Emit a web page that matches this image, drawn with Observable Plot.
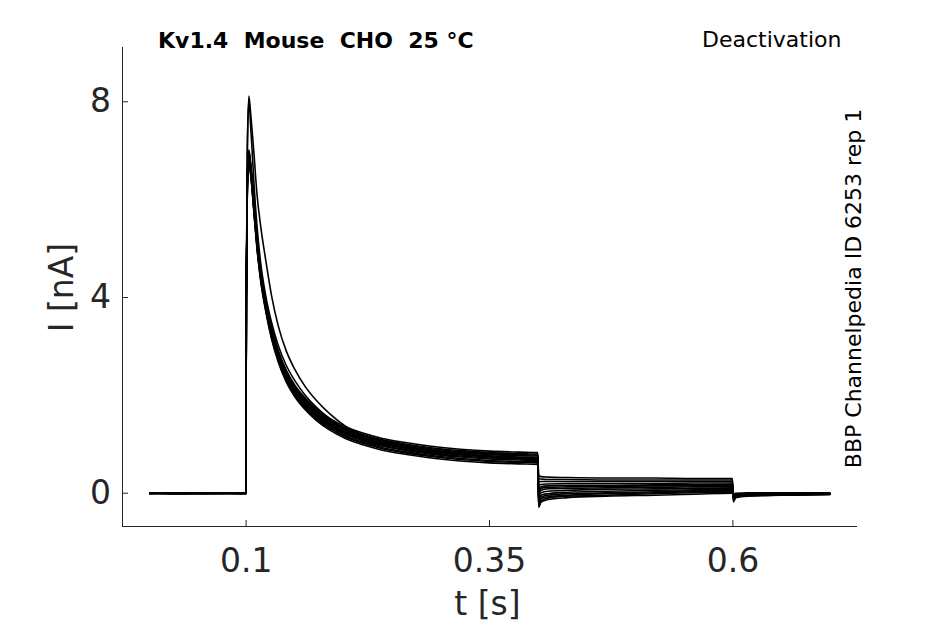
<!DOCTYPE html>
<html>
<head>
<meta charset="utf-8">
<script src="https://cdn.jsdelivr.net/npm/d3@7"></script>
<script src="https://cdn.jsdelivr.net/npm/@observablehq/plot@0.6"></script>
<style>
html,body{margin:0;padding:0;background:#fff;}
#chart{width:945px;height:624px;}
</style>
</head>
<body>
<div id="chart"></div>
<script>
// time samples (s), shared by every sweep
const time = [0.001, 0.03, 0.06, 0.0998,
  0.1002, 0.1012, 0.1028, 0.1045, 0.106, 0.108, 0.111, 0.115, 0.120, 0.126, 0.133, 0.141, 0.150, 0.160,
  0.172, 0.186, 0.202, 0.220, 0.240, 0.265, 0.290, 0.320, 0.350, 0.380, 0.3995,
  0.4005, 0.403, 0.41, 0.43, 0.47, 0.52, 0.56, 0.5995,
  0.6005, 0.603, 0.615, 0.65, 0.6995];

// current (nA) of each sweep at those times
const sweep01 = [0.00, 0.01, -0.01, 0.00,
  4.20, 7.00, 8.12, 7.80, 7.45, 6.95, 6.15, 5.45, 4.78, 4.05, 3.42, 2.92, 2.53, 2.20, 1.90, 1.62, 1.37, 1.19, 1.05, 0.95, 0.87, 0.81, 0.76, 0.73, 0.72,
  0.01, 0.06, 0.09, 0.10, 0.11, 0.12, 0.13, 0.14,
  -0.07, -0.04, -0.03, -0.02, -0.01];
const sweep13 = [0.01, 0.00, 0.00, -0.01,
  4.15, 6.95, 8.05, 7.55, 7.05, 6.35, 5.50, 4.70, 4.05, 3.50, 3.02, 2.62, 2.30, 2.02, 1.76, 1.52, 1.30, 1.14, 1.02, 0.93, 0.86, 0.80, 0.75, 0.72, 0.71,
  0.05, 0.10, 0.12, 0.13, 0.14, 0.15, 0.15, 0.16,
  -0.08, -0.05, -0.03, -0.02, -0.01];
const sweep02 = [0.01, -0.01, 0.00, 0.01,
  4.12, 6.42, 7.02, 6.77, 6.47, 5.97, 5.27, 4.57, 3.97, 3.40, 2.92, 2.52, 2.21, 1.96, 1.73, 1.53, 1.36, 1.23, 1.12, 1.03, 0.96, 0.90, 0.86, 0.84, 0.83,
  0.36, 0.34, 0.33, 0.32, 0.31, 0.31, 0.30, 0.30,
  -0.18, -0.09, -0.06, -0.04, -0.03];
const sweep03 = [-0.01, 0.00, 0.01, 0.00,
  4.09, 6.39, 6.99, 6.74, 6.44, 5.94, 5.24, 4.54, 3.94, 3.37, 2.89, 2.49, 2.18, 1.93, 1.70, 1.50, 1.33, 1.20, 1.09, 1.00, 0.93, 0.87, 0.83, 0.81, 0.80,
  0.30, 0.29, 0.28, 0.28, 0.27, 0.27, 0.27, 0.27,
  -0.15, -0.08, -0.05, -0.04, -0.02];
const sweep04 = [0.00, -0.01, 0.00, -0.01,
  4.07, 6.37, 6.97, 6.72, 6.42, 5.92, 5.22, 4.52, 3.92, 3.35, 2.87, 2.47, 2.16, 1.91, 1.68, 1.48, 1.31, 1.18, 1.07, 0.98, 0.91, 0.85, 0.81, 0.79, 0.78,
  0.23, 0.24, 0.24, 0.24, 0.24, 0.24, 0.24, 0.24,
  -0.13, -0.07, -0.05, -0.03, -0.02];
const sweep05 = [0.01, 0.00, -0.01, 0.00,
  4.05, 6.35, 6.95, 6.70, 6.40, 5.90, 5.20, 4.50, 3.90, 3.33, 2.85, 2.45, 2.14, 1.89, 1.66, 1.46, 1.29, 1.16, 1.05, 0.96, 0.89, 0.83, 0.79, 0.77, 0.76,
  0.17, 0.18, 0.19, 0.20, 0.20, 0.20, 0.21, 0.21,
  -0.11, -0.06, -0.04, -0.03, -0.02];
const sweep06 = [0.00, 0.01, 0.00, 0.01,
  4.02, 6.32, 6.92, 6.67, 6.37, 5.87, 5.17, 4.47, 3.87, 3.30, 2.82, 2.42, 2.11, 1.86, 1.63, 1.43, 1.26, 1.13, 1.02, 0.93, 0.86, 0.80, 0.76, 0.74, 0.73,
  0.10, 0.13, 0.15, 0.16, 0.16, 0.17, 0.17, 0.18,
  -0.09, -0.05, -0.04, -0.03, -0.01];
const sweep07 = [-0.01, 0.00, 0.00, 0.00,
  4.00, 6.30, 6.90, 6.65, 6.35, 5.85, 5.15, 4.45, 3.85, 3.28, 2.80, 2.40, 2.09, 1.84, 1.61, 1.41, 1.24, 1.11, 1.00, 0.91, 0.84, 0.78, 0.74, 0.72, 0.71,
  -0.05, 0.01, 0.04, 0.06, 0.08, 0.09, 0.10, 0.11,
  -0.06, -0.04, -0.03, -0.02, -0.01];
const sweep08 = [0.00, 0.00, 0.01, -0.01,
  3.98, 6.28, 6.88, 6.63, 6.33, 5.83, 5.13, 4.43, 3.83, 3.26, 2.78, 2.38, 2.07, 1.82, 1.59, 1.39, 1.22, 1.09, 0.98, 0.89, 0.82, 0.76, 0.72, 0.70, 0.69,
  -0.12, -0.04, -0.01, 0.02, 0.04, 0.06, 0.07, 0.08,
  -0.05, -0.03, -0.02, -0.02, 0.00];
const sweep09 = [0.01, -0.01, 0.00, 0.00,
  3.96, 6.26, 6.86, 6.61, 6.31, 5.81, 5.11, 4.41, 3.81, 3.24, 2.76, 2.36, 2.05, 1.80, 1.57, 1.37, 1.20, 1.07, 0.96, 0.87, 0.80, 0.74, 0.70, 0.68, 0.67,
  -0.16, -0.08, -0.04, -0.01, 0.01, 0.03, 0.05, 0.06,
  -0.04, -0.03, -0.02, -0.01, 0.00];
const sweep10 = [0.00, 0.00, -0.01, 0.01,
  3.93, 6.23, 6.83, 6.58, 6.28, 5.78, 5.08, 4.38, 3.78, 3.21, 2.73, 2.33, 2.02, 1.77, 1.54, 1.34, 1.17, 1.04, 0.93, 0.84, 0.77, 0.71, 0.67, 0.65, 0.64,
  -0.20, -0.11, -0.07, -0.04, -0.01, 0.01, 0.03, 0.04,
  -0.03, -0.02, -0.01, -0.01, 0.00];
const sweep11 = [-0.01, 0.01, 0.00, 0.00,
  3.91, 6.21, 6.81, 6.56, 6.26, 5.76, 5.06, 4.36, 3.76, 3.19, 2.71, 2.31, 2.00, 1.75, 1.52, 1.32, 1.15, 1.02, 0.91, 0.82, 0.75, 0.69, 0.65, 0.63, 0.62,
  -0.25, -0.15, -0.10, -0.06, -0.04, -0.01, 0.01, 0.02,
  -0.02, -0.01, -0.01, 0.00, 0.01];
const sweep12 = [0.00, -0.01, 0.01, 0.00,
  3.88, 6.18, 6.78, 6.53, 6.23, 5.73, 5.03, 4.33, 3.73, 3.16, 2.68, 2.28, 1.97, 1.72, 1.49, 1.29, 1.12, 0.99, 0.88, 0.79, 0.72, 0.66, 0.62, 0.60, 0.59,
  -0.29, -0.18, -0.13, -0.09, -0.06, -0.04, -0.02, 0.00,
  -0.01, 0.00, 0.01, 0.01, 0.01];

const sweeps = [sweep01, sweep13, sweep02, sweep03, sweep04, sweep05, sweep06,
                sweep07, sweep08, sweep09, sweep10, sweep11, sweep12];

const xTicks = [0.1, 0.35, 0.6];
const yTicks = [0, 4, 8];
const xDomain = [-0.027, 0.728];
const yDomain = [-0.68, 9.11];

const titleText = "Kv1.4\u00a0 Mouse\u00a0 CHO\u00a0 25 °C";
const protocolText = "Deactivation";
const sourceText = "BBP Channelpedia ID 6253 rep 1";
const xLabel = "t [s]";
const yLabel = "I [nA]";

const rows = sweeps.flatMap((s, i) => s.map((v, j) => ({t: time[j], I: v, sweep: i})));

const W = 945, H = 624, mL = 122, mR = 88, mT = 47, mB = 98;
const frameW = W - mL - mR, frameH = H - mT - mB;
const axisColor = "#262626";

const chart = Plot.plot({
  width: W, height: H,
  marginLeft: mL, marginRight: mR, marginTop: mT, marginBottom: mB,
  style: {fontFamily: "'DejaVu Sans', sans-serif", background: "#fff", overflow: "visible"},
  x: {domain: xDomain},
  y: {domain: yDomain},
  marks: [
    Plot.ruleX([xDomain[0]], {stroke: axisColor, strokeWidth: 1}),
    Plot.ruleY([yDomain[0]], {stroke: axisColor, strokeWidth: 1}),
    Plot.tickX(xTicks, {x: d => d, insetTop: frameH - 6, stroke: axisColor}),
    Plot.tickY(yTicks, {y: d => d, insetRight: frameW - 6, stroke: axisColor}),
    Plot.axisX({ticks: xTicks, tickFormat: d => String(d), tickSize: 0, tickPadding: 22, fontSize: 33, color: axisColor, label: null}),
    Plot.axisY({ticks: yTicks, tickFormat: d => String(d), tickSize: 0, tickPadding: 11.5, fontSize: 33, color: axisColor, label: null}),
    Plot.line(rows, {x: "t", y: "I", z: "sweep", stroke: "#000", strokeWidth: 1.6, strokeLinejoin: "round", curve: "monotone-x"}),
    Plot.text([titleText], {text: d => d, frameAnchor: "top-left", textAnchor: "start", lineAnchor: "top",
      dx: 35.5, dy: -15.3, fontSize: 22, fontWeight: "bold", fill: "#000"}),
    Plot.text([protocolText], {text: d => d, frameAnchor: "top-right", textAnchor: "end", lineAnchor: "top",
      dx: -16, dy: -15.9, fontSize: 22, fill: "#000"}),
    Plot.text([sourceText], {text: d => d, frameAnchor: "right", textAnchor: "middle", lineAnchor: "top",
      rotate: -90, dx: -12, dy: 1.5, fontSize: 22, fill: "#000"}),
    Plot.text([xLabel], {text: d => d, frameAnchor: "bottom", textAnchor: "middle", lineAnchor: "top",
      dx: -2.5, dy: 65, fontSize: 33, fill: axisColor}),
    Plot.text([yLabel], {text: d => d, frameAnchor: "left", textAnchor: "middle", lineAnchor: "top",
      rotate: -90, dx: -73.4, dy: 0.5, fontSize: 33, fill: axisColor})
  ]
});
document.getElementById("chart").appendChild(chart);
</script>
</body>
</html>
